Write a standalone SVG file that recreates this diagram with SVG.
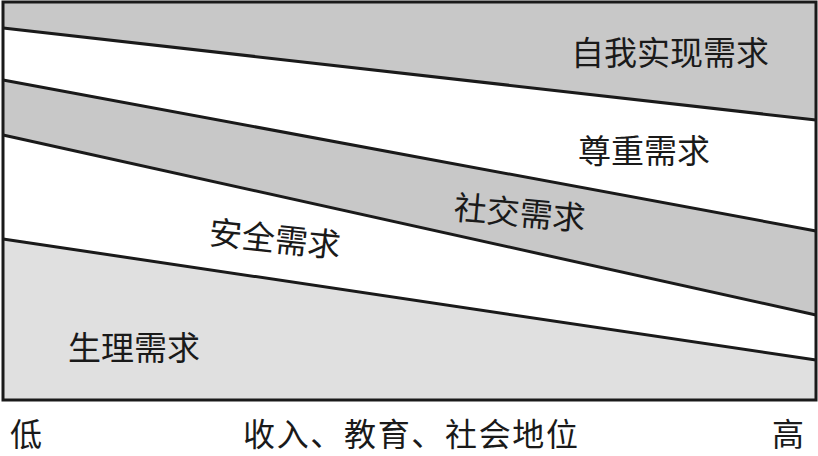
<svg xmlns="http://www.w3.org/2000/svg" width="818" height="456" viewBox="0 0 818 456">
<style>
.dark{fill:#c8c8c8}
.light{fill:#e0e0e0}
.ln{stroke:#1a1a1a;stroke-width:3;fill:none}
.t{font-family:"Noto Sans CJK SC","Noto Sans CJK JP",sans-serif;font-size:33px;fill:#1a1a1a}
.b{font-family:"Noto Sans CJK SC","Noto Sans CJK JP",sans-serif;font-size:32px;fill:#1a1a1a}
</style>
<rect x="0" y="0" width="818" height="456" fill="#ffffff"/>
<g id="bands">
<polygon class="dark" points="3,2 816,2 816,120 3,28"/>
<polygon class="dark" points="3,80 816,231 816,315 3,135"/>
<polygon class="light" points="3,239 816,360 816,400 3,400"/>
</g>
<g id="connectors">
<line class="ln" x1="3" y1="28" x2="816" y2="120"/>
<line class="ln" x1="3" y1="80" x2="816" y2="231"/>
<line class="ln" x1="3" y1="135" x2="816" y2="315"/>
<line class="ln" x1="3" y1="239" x2="816" y2="360"/>
<rect class="ln" x="3" y="2" width="813" height="398"/>
</g>
<g id="n-self"><text class="t" x="571" y="65">自我实现需求</text></g>
<g id="n-esteem"><text class="t" x="578" y="163">尊重需求</text></g>
<g id="n-social"><text class="t" x="453" y="219" transform="rotate(5 453 219)">社交需求</text></g>
<g id="n-safety"><text class="t" x="208" y="244" transform="rotate(6 208 244)">安全需求</text></g>
<g id="n-phys"><text class="t" x="68" y="360">生理需求</text></g>
<g id="axis">
<text class="b" x="10" y="446">低</text>
<text class="b" x="243" y="446" textLength="335">收入、教育、社会地位</text>
<text class="b" x="772" y="446">高</text>
</g>
</svg>
